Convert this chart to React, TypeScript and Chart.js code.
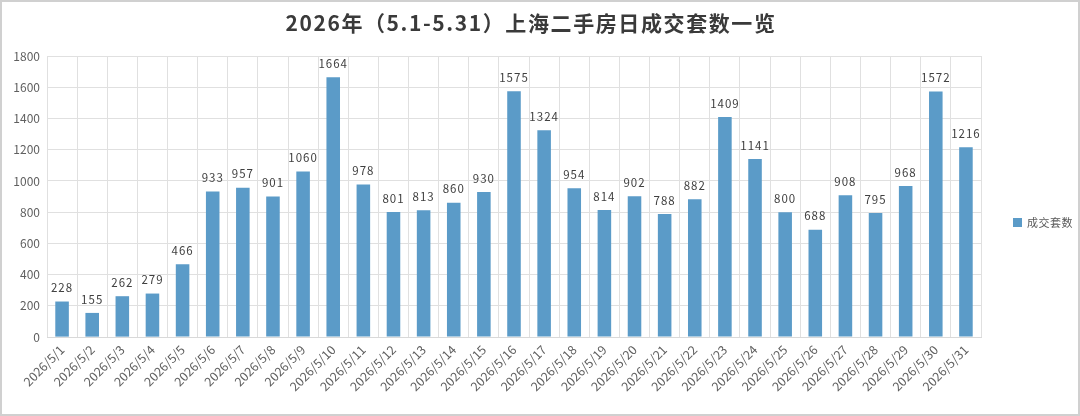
import React, { useEffect, useRef } from "react";
import { Chart, registerables } from "chart.js";

Chart.register(...registerables);

const titleText = "2026年（5.1-5.31）上海二手房日成交套数一览";
const seriesName = "成交套数";
const dates = Array.from({ length: 31 }, (_, i) => `2026/5/${i + 1}`);
const values = [
  228, 155, 262, 279, 466, 933, 957, 901, 1060, 1664, 978, 801, 813, 860, 930,
  1575, 1324, 954, 814, 902, 788, 882, 1409, 1141, 800, 688, 908, 795, 968, 1572, 1216,
];

const FONT = "'Noto Sans CJK SC', 'Noto Sans', sans-serif";
const BAR = "#5b9bc8";

const decorPlugin = {
  id: "decor",
  afterDatasetsDraw(chart: any) {
    const ctx = chart.ctx;
    const meta = chart.getDatasetMeta(0);
    ctx.save();
    // data labels
    ctx.font = `11.5px ${FONT}`;
    (ctx as any).letterSpacing = "1px";
    ctx.fillStyle = "#404040";
    ctx.textAlign = "center";
    ctx.textBaseline = "bottom";
    meta.data.forEach((el: any, i: number) => {
      ctx.fillText(String(values[i]), el.x, el.y - 8);
    });
    // title
    ctx.font = `bold 21px ${FONT}`;
    (ctx as any).letterSpacing = "1.6px";
    ctx.fillStyle = "#3a3a3a";
    ctx.textBaseline = "middle";
    ctx.fillText(titleText, 529, 21);
    // legend
    (ctx as any).letterSpacing = "0.5px";
    ctx.fillStyle = BAR;
    ctx.fillRect(1011, 216, 9, 9);
    ctx.font = `11px ${FONT}`;
    ctx.fillStyle = "#595959";
    ctx.textAlign = "left";
    ctx.fillText(seriesName, 1025, 221);
    ctx.restore();
  },
};

export default function App() {
  const ref = useRef<HTMLCanvasElement | null>(null);
  useEffect(() => {
    document.body.style.margin = "0";
    const chart = new Chart(ref.current as HTMLCanvasElement, {
      type: "bar",
      data: {
        labels: dates,
        datasets: [
          {
            label: seriesName,
            data: values,
            backgroundColor: BAR,
            barPercentage: 0.45,
            categoryPercentage: 1,
          },
        ],
      },
      options: {
        animation: false,
        responsive: false,
        maintainAspectRatio: false,
        layout: { padding: { left: 8, right: 97, top: 54, bottom: 15 } },
        plugins: {
          title: { display: false },
          legend: { display: false },
          tooltip: { enabled: false },
        },
        scales: {
          x: {
            grid: { color: "#e0e0e0", offset: true, drawTicks: false },
            border: { color: "#d9d9d9" },
            ticks: {
              minRotation: 45,
              maxRotation: 45,
              color: "#5f5f5f",
              font: { family: FONT, size: 12.5 },
              padding: 5,
            },
          },
          y: {
            min: 0,
            max: 1800,
            afterFit: (s: any) => {
              s.width = 37;
            },
            ticks: {
              stepSize: 200,
              color: "#5f5f5f",
              font: { family: FONT, size: 12 },
              padding: 7,
              callback: (v: any) => String(v),
            },
            grid: { color: "#e0e0e0", drawTicks: false },
            border: { display: false },
          },
        },
      },
      plugins: [decorPlugin],
    });
    return () => chart.destroy();
  }, []);
  return (
    <div
      style={{
        position: "fixed",
        left: 0,
        top: 0,
        width: 1080,
        height: 416,
        boxSizing: "border-box",
        border: "2px solid #d0d0d0",
        background: "#fff",
      }}
    >
      <canvas ref={ref} width={1076} height={412} style={{ display: "block" }} />
    </div>
  );
}
